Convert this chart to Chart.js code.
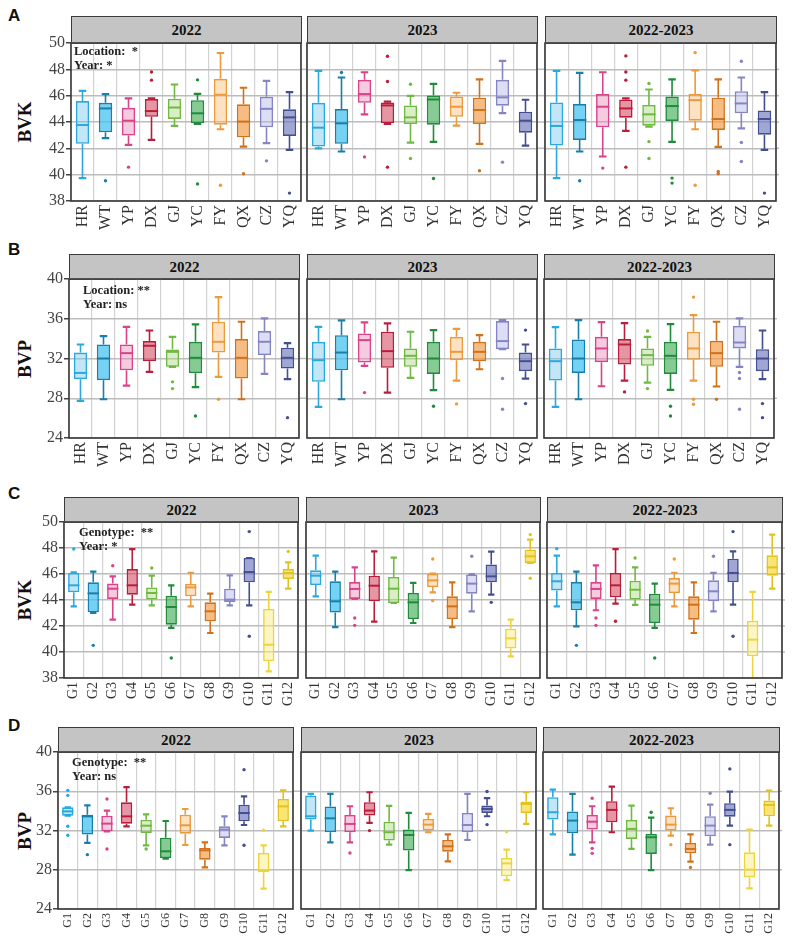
<!DOCTYPE html>
<html><head><meta charset="utf-8">
<script src="https://cdn.jsdelivr.net/npm/chart.js@4.4.1/dist/chart.umd.min.js"></script>
<style>
body{margin:0;background:#fff;}
#root{position:relative;width:794px;height:940px;overflow:hidden;font-family:'Liberation Serif','Times New Roman',serif;}
.strip{position:absolute;box-sizing:border-box;background:#c4c4c4;border:1.5px solid #3a3a3a;font-weight:bold;font-size:15px;color:#111;display:flex;align-items:center;justify-content:center;}
.plab{position:absolute;font-family:'Liberation Sans',Arial,sans-serif;font-weight:bold;font-size:17px;color:#111;}
.ytitle{position:absolute;font-weight:bold;font-size:19px;color:#111;transform:translate(-50%,-50%) rotate(-90deg);white-space:nowrap;}
.note{position:absolute;font-weight:bold;font-size:12.5px;color:#222;white-space:pre;line-height:14px;}
canvas{position:absolute;}
</style></head>
<body><div id="root"></div>
<script>
// ---------- categories & tick labels ----------
const locations = ['HR','WT','YP','DX','GJ','YC','FY','QX','CZ','YQ'];
const genotypes = ['G1','G2','G3','G4','G5','G6','G7','G8','G9','G10','G11','G12'];
const facetTitles = ['2022','2023','2022-2023'];
const bvkTicks = [38,40,42,44,46,48,50];
const bvpTicks = [24,28,32,36,40];

// ---------- colours ----------
const locStroke = ['#2aa9df','#187fa9','#d8438a','#b81e3c','#72b944','#1f8b3b','#eb9a3c','#d0711b','#8585c3','#434f8f'];
const locFill = ['rgba(120,200,236,0.45)','rgba(70,195,240,0.75)','rgba(236,140,185,0.45)','rgba(214,80,100,0.6)','rgba(170,215,130,0.45)','rgba(70,175,90,0.65)','rgba(248,190,120,0.45)','rgba(242,160,75,0.7)','rgba(180,180,228,0.45)','rgba(110,120,190,0.65)'];
const genoStroke = ['#2aa9df','#187fa9','#d8438a','#b81e3c','#72b944','#1f8b3b','#eb9a3c','#d0711b','#8585c3','#434f8f','#ecd43c','#e3c21e'];
const genoFill = ['rgba(120,200,236,0.45)','rgba(70,195,240,0.75)','rgba(236,140,185,0.45)','rgba(214,80,100,0.6)','rgba(170,215,130,0.45)','rgba(70,175,90,0.65)','rgba(248,190,120,0.45)','rgba(242,160,75,0.7)','rgba(180,180,228,0.45)','rgba(110,120,190,0.65)','rgba(250,238,140,0.5)','rgba(246,218,60,0.7)'];

// ---------- box statistics: [lower whisker, Q1, median, Q3, upper whisker] ----------
// A: BVK by location
const bvkLoc2022 = [[39.74,42.34,43.77,45.59,46.37],[42.77,43.22,45.03,45.46,46.12],[42.26,42.97,44.10,45.08,45.79],[42.64,44.40,44.83,45.74,45.80],[43.70,44.23,45.10,45.77,46.85],[43.85,43.90,44.66,45.66,46.14],[43.45,43.80,46.07,47.28,49.24],[42.13,42.84,44.03,45.34,46.60],[42.39,43.60,45.00,45.92,47.13],[41.88,42.94,44.35,44.96,46.27]];
const bvkLoc2023 = [[42.00,42.13,43.57,45.46,47.88],[41.76,42.34,43.90,44.98,47.38],[44.58,45.46,46.12,47.20,47.78],[43.85,43.90,45.26,45.49,45.55],[42.44,43.85,44.35,45.26,45.99],[42.49,43.80,45.71,46.02,46.90],[43.72,44.40,45.16,45.94,46.22],[42.34,43.85,44.91,45.84,47.23],[44.68,45.24,45.87,47.20,48.64],[42.21,43.19,44.10,44.78,45.69]];
const bvkLoc2223 = [[39.74,42.21,43.70,45.49,47.88],[41.76,42.64,44.15,45.36,47.73],[41.38,43.60,45.16,46.12,47.78],[43.32,44.33,45.03,45.71,45.79],[43.65,43.72,44.58,45.29,46.47],[42.49,44.08,45.21,45.94,47.23],[43.45,44.10,45.66,46.12,47.91],[42.11,43.40,44.23,45.84,47.23],[43.52,44.66,45.41,46.34,47.38],[41.88,43.04,44.23,44.88,46.27]];
// B: BVP by location
const bvpLoc2022 = [[27.73,29.92,30.55,32.60,33.41],[27.90,29.82,32.00,33.41,34.25],[29.28,30.82,32.54,33.41,35.19],[30.66,31.73,33.28,33.75,34.82],[31.16,31.16,32.67,32.91,34.18],[29.11,30.52,32.07,33.68,35.43],[30.15,32.60,33.68,35.70,38.18],[27.90,29.98,32.07,33.95,35.70],[30.45,32.34,33.68,34.76,36.03],[29.92,30.99,32.07,33.08,33.55]];
const bvpLoc2023 = [[27.13,29.65,31.83,33.68,35.19],[27.90,30.82,32.60,34.35,35.83],[31.26,31.60,33.85,34.52,35.63],[28.57,31.06,32.74,34.69,35.53],[30.05,31.16,32.27,33.01,34.69],[28.81,30.45,32.00,33.68,34.86],[29.78,31.83,32.67,34.18,34.99],[30.92,31.73,32.67,33.68,34.35],[32.94,32.94,33.75,35.77,35.87],[29.98,30.72,31.73,32.60,33.41]];
const bvpLoc2223 = [[27.13,29.78,31.73,33.01,35.16],[27.90,30.55,32.00,33.92,35.87],[29.21,31.63,33.01,34.18,35.66],[29.78,31.39,33.41,33.95,35.56],[29.58,31.26,32.34,33.01,34.18],[28.84,30.45,32.27,33.68,35.46],[29.78,31.87,33.01,34.69,36.37],[29.18,31.16,32.54,33.78,35.70],[31.16,33.01,33.61,35.29,36.03],[29.92,30.72,32.00,32.94,34.82]];
// C: BVK by genotype
const bvkGeno2022 = [[43.51,44.59,45.13,46.08,46.13],[43.00,43.05,44.51,45.36,46.18],[42.49,44.08,44.87,45.26,45.82],[43.64,44.41,45.13,46.38,47.92],[43.59,44.03,44.54,44.97,45.87],[41.85,42.10,43.46,44.33,45.13],[43.51,44.28,44.97,45.23,46.08],[41.46,42.36,43.13,43.82,44.49],[43.59,43.85,44.03,44.87,45.90],[43.59,45.36,46.15,47.23,47.23],[38.51,39.28,40.56,43.31,44.62],[44.87,45.62,46.08,46.38,46.90]];
const bvkGeno2023 = [[44.28,45.15,45.87,46.28,47.41],[41.92,43.03,43.90,45.44,46.18],[44.08,44.08,44.85,45.38,46.51],[42.33,43.90,45.10,45.87,47.74],[43.77,43.77,44.87,45.77,47.26],[42.23,42.54,43.82,44.54,45.31],[44.59,45.00,45.51,46.00,46.03],[41.92,42.54,43.51,44.28,45.36],[43.13,44.49,45.26,45.97,46.00],[44.41,45.36,45.82,46.74,47.72],[39.67,40.26,41.05,41.79,42.49],[46.85,46.85,47.36,47.87,48.64]];
const bvkGeno2223 = [[43.51,44.74,45.44,46.08,47.41],[41.97,43.21,43.82,45.38,46.18],[43.21,44.08,44.85,45.38,46.67],[43.72,44.21,45.13,46.08,47.92],[43.62,44.03,44.79,45.49,46.51],[41.85,42.23,43.64,44.49,45.26],[43.51,44.54,45.26,45.69,46.08],[41.46,42.49,43.64,44.28,45.36],[43.13,43.90,44.67,45.51,46.08],[43.64,45.36,46.08,47.18,47.74],[38.00,39.67,40.95,42.41,44.62],[44.87,45.87,46.51,47.44,49.03]];
// D: BVP by genotype
const bvpGeno2022 = [[33.51,33.51,33.95,34.36,34.36],[30.73,31.58,33.44,33.61,34.57],[31.92,31.92,32.70,33.51,34.02],[32.43,32.70,33.44,34.87,36.43],[30.49,31.75,32.49,33.10,33.65],[29.13,29.20,29.88,31.27,32.97],[30.52,31.68,32.53,33.61,34.19],[28.25,29.03,29.98,30.22,30.79],[30.49,31.24,32.09,32.43,33.44],[32.56,32.93,33.78,34.63,35.48],[26.07,27.74,27.94,29.71,30.49],[32.43,32.93,34.46,35.21,36.09]];
const bvpGeno2023 = [[31.99,33.11,33.45,35.56,35.73],[30.80,31.82,33.24,34.44,35.73],[30.80,31.82,32.67,33.59,34.47],[32.77,33.52,34.03,34.88,35.90],[30.56,30.97,31.82,32.90,34.50],[27.97,29.95,31.54,32.09,33.79],[31.82,31.99,32.60,33.18,33.69],[28.86,29.84,30.39,31.03,31.61],[31.03,31.82,32.56,33.79,35.73],[33.45,33.79,34.20,34.54,35.29],[26.95,27.33,28.65,29.20,30.05],[32.67,33.79,34.71,34.95,35.90]];
const bvpGeno2223 = [[31.61,33.11,33.86,35.39,36.17],[29.54,31.71,33.01,33.93,35.73],[30.80,32.09,32.90,33.59,34.47],[31.82,32.84,34.10,34.98,36.48],[30.12,31.14,32.16,33.07,34.54],[27.97,29.61,31.31,31.65,33.31],[31.48,31.99,32.60,33.52,34.27],[28.82,29.67,30.12,30.73,31.61],[30.56,31.41,32.50,33.45,34.64],[32.50,33.41,34.10,34.78,35.97],[26.10,27.22,28.01,29.78,32.09],[32.50,33.45,34.61,35.05,36.07]];

// ---------- outlying points: [category, value] ----------
const bvkLoc2022Out = [['WT',39.54],['YP',40.57],['DX',47.8],['DX',47.18],['YC',47.2],['YC',39.3],['FY',39.2],['QX',40.07],['CZ',41.05],['YQ',38.6]];
const bvkLoc2023Out = [['WT',47.76],['YP',41.35],['DX',48.99],['DX',47.08],['DX',40.57],['GJ',46.87],['GJ',41.23],['YC',39.71],['QX',40.3],['CZ',40.95]];
const bvkLoc2223Out = [['WT',39.54],['YP',40.5],['DX',49.02],['DX',47.8],['DX',47.18],['DX',40.57],['GJ',46.92],['GJ',42.51],['GJ',41.23],['YC',39.74],['YC',39.36],['FY',49.27],['FY',39.2],['QX',40.24],['QX',40.07],['CZ',48.61],['CZ',42.44],['CZ',41.0],['YQ',38.6]];
const bvpLoc2022Out = [['GJ',29.65],['GJ',28.97],['YC',26.22],['FY',27.9],['YQ',26.05]];
const bvpLoc2023Out = [['YP',28.57],['YC',27.19],['FY',27.43],['CZ',29.98],['CZ',26.89],['YQ',34.86],['YQ',27.46]];
const bvpLoc2223Out = [['DX',28.64],['GJ',34.76],['GJ',28.97],['YC',27.19],['YC',26.22],['FY',38.18],['FY',27.9],['FY',27.39],['QX',27.9],['CZ',30.59],['CZ',29.98],['CZ',26.89],['YQ',27.46],['YQ',26.05]];
const bvkGeno2022Out = [['G1',47.92],['G2',40.51],['G3',46.64],['G5',46.46],['G6',39.54],['G10',49.26],['G10',41.21],['G12',47.74]];
const bvkGeno2023Out = [['G3',42.62],['G3',42.05],['G7',47.15],['G7',43.95],['G9',47.36],['G10',43.82],['G12',49.03],['G12',45.67]];
const bvkGeno2223Out = [['G1',47.95],['G2',40.51],['G3',42.62],['G3',42.05],['G4',42.36],['G5',47.23],['G6',39.54],['G7',47.15],['G9',47.36],['G10',49.26],['G10',41.21]];
const bvpGeno2022Out = [['G1',36.09],['G1',35.58],['G1',32.43],['G1',31.51],['G2',29.54],['G3',35.21],['G3',30.12],['G5',30.12],['G10',38.2],['G10',30.49],['G11',32.02]];
const bvpGeno2023Out = [['G3',29.71],['G4',31.99],['G10',35.97],['G10',32.60],['G11',31.88]];
const bvpGeno2223Out = [['G3',35.29],['G3',30.18],['G3',29.67],['G6',33.86],['G7',30.56],['G8',28.24],['G9',35.80],['G10',38.28],['G10',30.56]];

// ---------- page layout (positions only) ----------
const rows = [
  {letter:'A', ytitle:'BVK', ticks:bvkTicks, cats:locations, stroke:locStroke, fill:locFill,
   stats:[bvkLoc2022,bvkLoc2023,bvkLoc2223], outs:[bvkLoc2022Out,bvkLoc2023Out,bvkLoc2223Out],
   note:'Location:  *\nYear: *', top:43, bottom:201, stripTop:16, facets:[[71,301],[307,537],[545,776]],
   xFont:16, xh:30, noteX:74, noteY:44, letterY:6},
  {letter:'B', ytitle:'BVP', ticks:bvpTicks, cats:locations, stroke:locStroke, fill:locFill,
   stats:[bvpLoc2022,bvpLoc2023,bvpLoc2223], outs:[bvpLoc2022Out,bvpLoc2023Out,bvpLoc2223Out],
   note:'Location: **\nYear: ns', top:279, bottom:438, stripTop:254, facets:[[69,299],[307,537],[544,774]],
   xFont:16, xh:30, noteX:83, noteY:283, letterY:240},
  {letter:'C', ytitle:'BVK', ticks:bvkTicks, cats:genotypes, stroke:genoStroke, fill:genoFill,
   stats:[bvkGeno2022,bvkGeno2023,bvkGeno2223], outs:[bvkGeno2022Out,bvkGeno2023Out,bvkGeno2223Out],
   note:'Genotype:  **\nYear: *', top:522, bottom:678, stripTop:497, facets:[[64,298],[306,540],[547,782]],
   xFont:14, xh:30, noteX:79, noteY:525, letterY:484},
  {letter:'D', ytitle:'BVP', ticks:bvpTicks, cats:genotypes, stroke:genoStroke, fill:genoFill,
   stats:[bvpGeno2022,bvpGeno2023,bvpGeno2223], outs:[bvpGeno2022Out,bvpGeno2023Out,bvpGeno2223Out],
   note:'Genotype:  **\nYear: ns', top:752, bottom:909, stripTop:727, facets:[[58,293],[301,536],[543,779]],
   xFont:12, xh:28, noteX:72, noteY:755, letterY:716}
];

const root = document.getElementById('root');
function el(cls, css, text){ const d=document.createElement('div'); d.className=cls; Object.assign(d.style, css); if(text!==undefined) d.textContent=text; root.appendChild(d); return d; }

const GRID_H = '#bcbcbc', GRID_V = '#d2d2d2', FRAME = '#383838';

const framePlugin = { id:'frame', afterDraw(chart){ const a=chart.chartArea, c=chart.ctx; c.save(); c.strokeStyle=FRAME; c.lineWidth=1.6; c.strokeRect(a.left,a.top,a.right-a.left,a.bottom-a.top); c.restore(); } };
const extGridPlugin = { id:'extgrid', afterDraw(chart, args, opts){
  const a=chart.chartArea, c=chart.ctx, y=chart.scales.y;
  c.save(); c.strokeStyle=GRID_H; c.lineWidth=1.5;
  y.ticks.forEach(t=>{ const py=y.getPixelForValue(t.value); if(py<a.top+2||py>a.bottom-2) return;
    c.beginPath();
    if(opts.extL>0){ c.moveTo(a.left-opts.extL,py); c.lineTo(a.left,py); }
    if(opts.extR>0){ c.moveTo(a.right,py); c.lineTo(a.right+opts.extR,py); }
    c.stroke(); });
  c.restore(); } };
function boxPlugin(stats, stroke){ return { id:'boxwhisk', afterDatasetsDraw(chart){
  const y=chart.scales.y, c=chart.ctx, meta=chart.getDatasetMeta(0);
  stats.forEach((s,i)=>{ const bar=meta.data[i]; if(!bar) return; const cx=bar.x, w=bar.width;
    const pLo=y.getPixelForValue(s[0]), pQ1=y.getPixelForValue(s[1]), pMed=y.getPixelForValue(s[2]), pQ3=y.getPixelForValue(s[3]), pHi=y.getPixelForValue(s[4]);
    c.save(); c.strokeStyle=stroke[i]; c.lineWidth=1.6; c.lineCap='butt';
    c.beginPath(); c.moveTo(cx,pQ3); c.lineTo(cx,pHi); c.moveTo(cx,pQ1); c.lineTo(cx,pLo); c.stroke();
    const cw=w*0.28; c.lineWidth=2.2;
    c.beginPath(); c.moveTo(cx-cw,pHi); c.lineTo(cx+cw,pHi); c.moveTo(cx-cw,pLo); c.lineTo(cx+cw,pLo); c.stroke();
    c.lineWidth=2; c.beginPath(); c.moveTo(cx-w/2,pMed); c.lineTo(cx+w/2,pMed); c.stroke();
    c.restore(); });
} }; }

rows.forEach(row=>{
  el('plab', {left:'8px', top:row.letterY+'px'}, row.letter);
  el('ytitle', {left:'25px', top:((row.top+row.bottom)/2)+'px'}, row.ytitle);
  const tmin=row.ticks[0], tmax=row.ticks[row.ticks.length-1], tstep=row.ticks[1]-row.ticks[0];
  row.facets.forEach((f,fi)=>{
    const [l,r]=f;
    el('strip', {left:l+'px', top:row.stripTop+'px', width:(r-l+1)+'px', height:(row.top-row.stripTop+1)+'px'}, facetTitles[fi]);
    const YW = fi===0 ? 34 : 0;
    const padL = fi===0 ? 0 : 2, padR = 10, padT = 10, padB = 2;
    const cv=document.createElement('canvas');
    const cw = (r-l) + YW + padL + padR, ch = padT + (row.bottom-row.top) + row.xh + padB;
    cv.width=cw; cv.height=ch;
    Object.assign(cv.style,{left:(l-YW-padL)+'px', top:(row.top-padT)+'px', width:cw+'px', height:ch+'px'});
    root.appendChild(cv);
    const next = row.facets[fi+1];
    const extR = next ? (next[0]-r) : 3;
    const stats=row.stats[fi], outs=row.outs[fi];
    new Chart(cv, {
      type:'bar',
      data:{ labels:row.cats, datasets:[
        { type:'bar', order:2, data:stats.map(s=>[s[1],s[3]]), backgroundColor:row.fill, borderColor:row.stroke,
          borderWidth:1.6, borderSkipped:false, barPercentage:0.58, categoryPercentage:1.0 },
        { type:'line', order:1, showLine:false, data:outs.map(o=>({x:o[0], y:o[1]})),
          pointRadius:1.7, pointHoverRadius:1.7, pointBorderWidth:0,
          pointBackgroundColor:ctx=>row.stroke[row.cats.indexOf(ctx.raw ? ctx.raw.x : '')] || '#888' }
      ]},
      options:{
        responsive:false, animation:false, devicePixelRatio:1,
        layout:{padding:{top:padT,bottom:padB,left:padL,right:padR}},
        plugins:{legend:{display:false}, tooltip:{enabled:false}, extgrid:{extL:0, extR:extR}},
        scales:{
          x:{ type:'category', offset:true,
              grid:{offset:true, color:GRID_V, lineWidth:1.2, drawTicks:false},
              border:{display:false},
              ticks:{autoSkip:false, maxRotation:90, minRotation:90, padding:4, color:'#333',
                     font:{family:"'Liberation Serif','Times New Roman',serif", size:row.xFont}},
              afterFit(s){ s.height=row.xh; s.paddingLeft=0; s.paddingRight=0; } },
          y:{ min:tmin, max:tmax,
              grid:{color:GRID_H, lineWidth:1.5, drawTicks:fi===0, tickLength:5, tickColor:'#444'},
              border:{display:false},
              ticks:{display:fi===0, stepSize:tstep, padding:1, color:'#444',
                     font:{family:"'Liberation Serif','Times New Roman',serif", size:16}},
              afterFit(s){ s.width=YW; s.paddingTop=0; s.paddingBottom=0; } }
        }
      },
      plugins:[boxPlugin(stats,row.stroke), extGridPlugin, framePlugin]
    });
  });
  el('note', {left:row.noteX+'px', top:row.noteY+'px'}, row.note);
});
</script>
</body></html>
